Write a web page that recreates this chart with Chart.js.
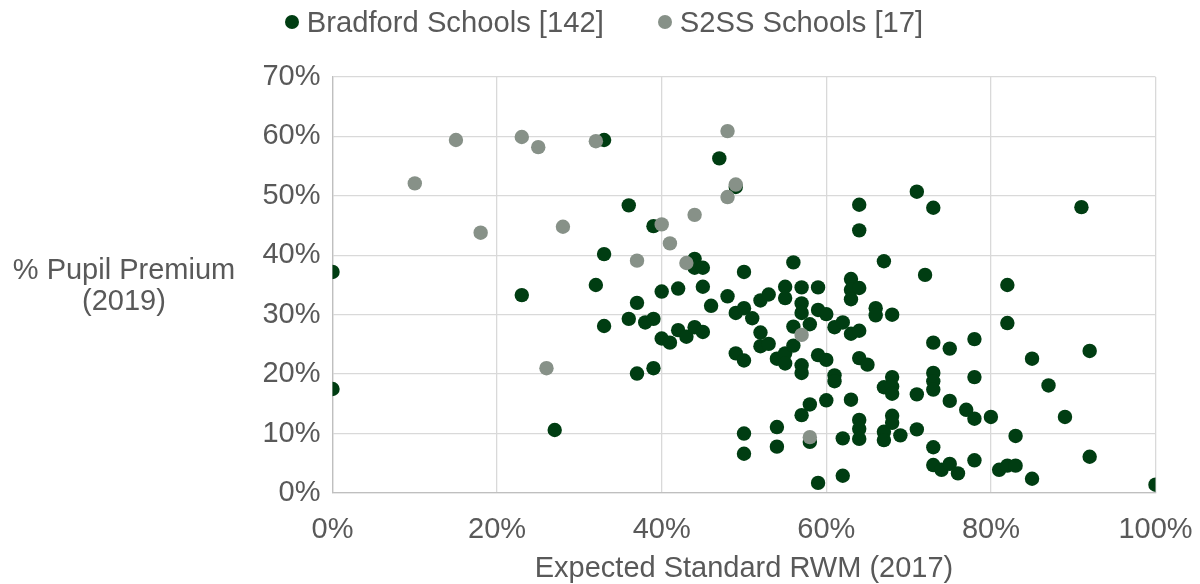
<!DOCTYPE html>
<html>
<head>
<meta charset="utf-8">
<title>Pupil Premium vs Expected Standard RWM</title>
<script src="https://cdn.jsdelivr.net/npm/chart.js@4.4.1/dist/chart.umd.min.js"></script>
<style>
  html, body { margin: 0; padding: 0; background: #fff; }
  #wrap { position: relative; width: 1200px; height: 584px; font-family: "Liberation Sans", Arial, sans-serif; color: #595959; }
  #legend { position: absolute; top: 4px; left: 4px; width: 1200px; display: flex; justify-content: center; gap: 54px; font-size: 29.2px; line-height: 36px; }
  #legend .item { display: flex; align-items: center; }
  #legend .dot { width: 14px; height: 14px; border-radius: 50%; margin-right: 8px; }
  #ytitle { position: absolute; left: 0; top: 254px; width: 248px; text-align: center; font-size: 29px; line-height: 31px; }
  canvas { position: absolute; left: 0; top: 0; }
</style>
</head>
<body>
<div id="wrap">
  <canvas id="chart" width="1200" height="584"></canvas>
  <div id="legend"></div>
  <div id="ytitle">% Pupil Premium<br>(2019)</div>
</div>
<script>
// Series names and colours
const seriesNames = ['Bradford Schools [142]', 'S2SS Schools [17]'];
const seriesColors = ['#003d12', '#879188'];

// Bradford schools: expected standard RWM 2017 (%) and pupil premium 2019 (%)
const bradfordX = [
    0, 0, 23, 27, 32, 33, 33, 33, 36, 36, 37, 37, 38, 39, 39, 39, 40, 40, 41, 42,
    42, 43, 44, 44, 45, 44, 45, 45, 46, 47, 48, 49, 49, 49, 50, 50, 50, 50, 50, 51,
    52, 52, 52, 53, 53, 54, 54, 54, 55, 55, 55, 55, 56, 56, 56, 57, 57, 57, 57, 57,
    57, 58, 58, 58, 59, 59, 59, 59, 60, 60, 60, 61, 61, 61, 62, 62, 62, 63, 63, 64,
    63, 63, 63, 64, 64, 64, 64, 64, 64, 64, 65, 66, 66, 67, 67, 67, 67, 68, 68, 68,
    68, 68, 68, 69, 71, 71, 71, 72, 73, 73, 73, 73, 73, 73, 73, 74, 75, 75, 75, 76,
    77, 78, 78, 78, 78, 80, 81, 82, 83, 82, 82, 83, 85, 85, 87, 89, 91, 92, 92, 100
];
const bradfordY = [
    37.2, 17.5, 33.3, 10.6, 35.0, 59.4, 40.2, 28.1, 48.4, 29.3, 32.0, 20.1, 28.7, 44.9, 29.3, 21.0, 33.9, 26.0, 25.3, 34.4,
    27.4, 26.3, 39.4, 37.9, 37.9, 27.9, 27.1, 34.7, 31.5, 56.3, 33.1, 51.5, 30.3, 23.5, 37.2, 31.1, 22.3, 10.0, 6.6, 29.4,
    32.4, 27.0, 24.7, 33.4, 25.1, 22.6, 11.1, 7.8, 34.7, 32.8, 23.5, 21.8, 38.8, 28.0, 24.8, 34.6, 31.9, 30.3, 21.5, 20.2,
    13.1, 28.4, 14.9, 8.6, 34.6, 30.8, 23.2, 1.7, 30.1, 22.4, 15.6, 27.9, 19.8, 18.8, 28.7, 9.2, 2.9, 36.0, 34.2, 34.5,
    32.6, 26.8, 15.7, 48.5, 44.2, 27.3, 22.7, 12.3, 10.8, 9.1, 21.6, 31.1, 29.9, 39.0, 17.8, 10.3, 8.9, 30.0, 19.5, 17.9,
    16.7, 13.0, 11.8, 9.7, 50.7, 16.6, 10.7, 36.7, 48.0, 25.3, 20.2, 18.8, 17.4, 7.7, 4.7, 3.9, 24.3, 15.5, 4.9, 3.3,
    14.0, 25.9, 19.5, 12.5, 5.5, 12.8, 3.9, 4.6, 4.6, 35.0, 28.6, 9.6, 22.6, 2.4, 18.1, 12.8, 48.1, 23.9, 6.1, 1.4
];

// S2SS schools
const s2ssX = [15, 10, 23, 25, 32, 18, 28, 48, 49, 48, 44, 40, 41, 37, 43, 26, 57, 58];
const s2ssY = [59.4, 52.1, 59.9, 58.2, 59.2, 43.8, 44.8, 60.9, 51.9, 49.8, 46.8, 45.2, 42.0, 39.1, 38.7, 21.0, 26.6, 9.4];

// Axis ticks
const xTicks = [0, 20, 40, 60, 80, 100];
const yTicks = [0, 10, 20, 30, 40, 50, 60, 70];

const textColor = '#595959';
const fontFamily = '"Liberation Sans", Arial, sans-serif';

function toPoints(xs, ys) {
    return xs.map((x, i) => ({ x: x, y: ys[i] }));
}

// Legend as plain html above the canvas
const legendEl = document.getElementById('legend');
legendEl.innerHTML = seriesNames.map((name, i) => `
    <div class="item"><span class="dot" style="background:${seriesColors[i]}"></span><span>${name}</span></div>
`).join('');

new Chart(document.getElementById('chart'), {
    type: 'scatter',
    data: {
        datasets: [
            {
                label: seriesNames[0],
                data: toPoints(bradfordX, bradfordY),
                backgroundColor: seriesColors[0],
                borderWidth: 0,
                pointRadius: 7.2,
                order: 1
            },
            {
                label: seriesNames[1],
                data: toPoints(s2ssX, s2ssY),
                backgroundColor: seriesColors[1],
                borderWidth: 0,
                pointRadius: 7.2,
                order: 0
            }
        ]
    },
    options: {
        responsive: false,
        animation: false,
        events: [],
        layout: { padding: { top: 77, right: 44.5, left: 232.5, bottom: 0 } },
        plugins: {
            legend: { display: false },
            tooltip: { enabled: false }
        },
        scales: {
            x: {
                type: 'linear',
                min: xTicks[0],
                max: xTicks[xTicks.length - 1],
                afterBuildTicks: s => { s.ticks = xTicks.map(v => ({ value: v })); },
                afterFit: s => { s.height = 91; },
                ticks: {
                    callback: v => v + '%',
                    color: textColor,
                    font: { family: fontFamily, size: 29 },
                    padding: 3,
                    maxRotation: 0
                },
                // invisible tick marks just push the labels down
                grid: { color: '#d9d9d9', lineWidth: 1.3, drawTicks: true, tickLength: 17, tickColor: 'rgba(0,0,0,0)' },
                border: { color: '#bfbfbf', width: 1.3 },
                title: {
                    display: true,
                    text: 'Expected Standard RWM (2017)',
                    color: textColor,
                    font: { family: fontFamily, size: 29 },
                    padding: { top: 0, bottom: -2 }
                }
            },
            y: {
                type: 'linear',
                min: yTicks[0],
                max: yTicks[yTicks.length - 1],
                afterBuildTicks: s => { s.ticks = yTicks.map(v => ({ value: v })); },
                afterFit: s => { s.width = 100; },
                ticks: {
                    callback: v => v + '%',
                    color: textColor,
                    font: { family: fontFamily, size: 29 },
                    padding: 12
                },
                grid: { color: '#d9d9d9', lineWidth: 1.3, drawTicks: false },
                border: { color: '#bfbfbf', width: 1.3 }
            }
        }
    }
});
</script>
</body>
</html>
